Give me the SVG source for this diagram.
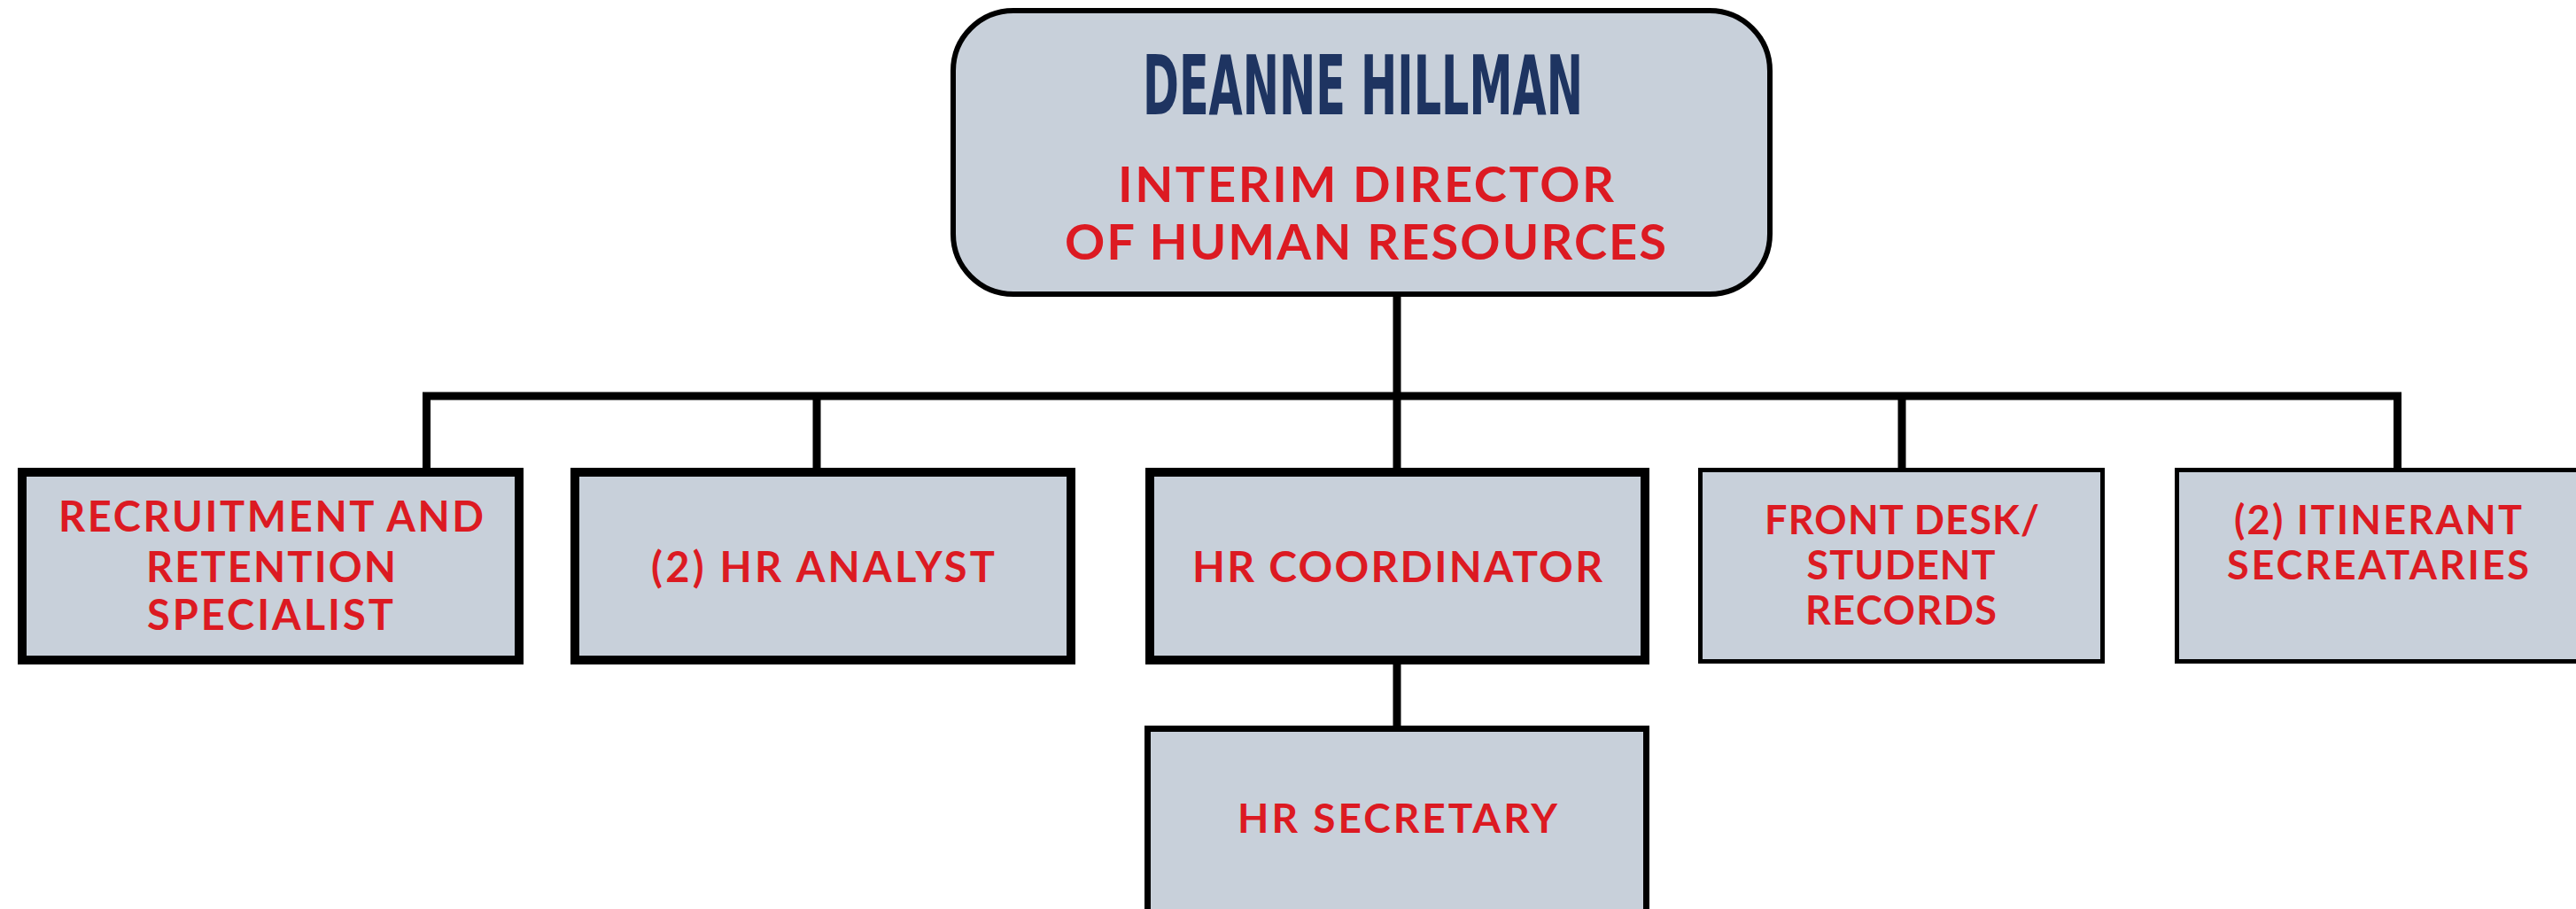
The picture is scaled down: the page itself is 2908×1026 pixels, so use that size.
<svg xmlns="http://www.w3.org/2000/svg" width="2908" height="1026" viewBox="0 0 2908 1026">
<style>
.box{fill:#c8d0da;stroke:#000}
.lbl{font-family:Lato,"Open Sans","Liberation Sans",sans-serif;font-weight:700;fill:#dc1a22;text-anchor:middle}
.name{font-family:"DejaVu Sans Condensed","Liberation Sans Narrow","Liberation Sans",sans-serif;font-weight:700;font-stretch:condensed;fill:#1e3461;text-anchor:middle}
.conn{fill:none;stroke:#000;stroke-width:9}
</style>
<rect width="2908" height="1026" fill="#fff"/>
<g id="connectors">
<path class="conn" d="M1577 335 V447"/>
<path class="conn" d="M481.5 528 V447 H2706.5 V528"/>
<path class="conn" d="M922 447 V528"/>
<path class="conn" d="M1577 447 V528"/>
<path class="conn" d="M2147 447 V528"/>
<path class="conn" d="M1577 750 V819"/>
</g>
<g id="director">
<rect class="box" x="1076" y="12" width="922" height="320" rx="68" ry="68" stroke-width="6"/>
<text class="name" x="1538.5" y="129" font-size="92" textLength="497" lengthAdjust="spacingAndGlyphs">DEANNE HILLMAN</text>
<text class="lbl" x="1542" y="228" font-size="56" textLength="560" lengthAdjust="spacing">INTERIM DIRECTOR</text>
<text class="lbl" x="1541.5" y="293" font-size="56" textLength="679" lengthAdjust="spacing">OF HUMAN RESOURCES</text>
</g>
<g id="recruitment">
<rect class="box" x="25" y="533" width="561" height="212" stroke-width="10"/>
<text class="lbl" x="306" y="600" font-size="47" textLength="480" lengthAdjust="spacing">RECRUITMENT AND</text>
<text class="lbl" x="306" y="657" font-size="47" textLength="282" lengthAdjust="spacing">RETENTION</text>
<text class="lbl" x="305" y="711" font-size="47" textLength="278" lengthAdjust="spacing">SPECIALIST</text>
</g>
<g id="analyst">
<rect class="box" x="649" y="533" width="560" height="212" stroke-width="10"/>
<text class="lbl" x="929" y="657" font-size="47" textLength="388" lengthAdjust="spacing">(2) HR ANALYST</text>
</g>
<g id="coordinator">
<rect class="box" x="1298" y="533" width="559" height="212" stroke-width="10"/>
<text class="lbl" x="1577.5" y="657" font-size="48" textLength="463" lengthAdjust="spacing">HR COORDINATOR</text>
</g>
<g id="frontdesk">
<rect class="box" x="1919.5" y="530.5" width="454" height="216" stroke-width="5"/>
<text class="lbl" x="2147" y="603" font-size="45" textLength="310" lengthAdjust="spacing">FRONT DESK/</text>
<text class="lbl" x="2146" y="654" font-size="45" textLength="213" lengthAdjust="spacing">STUDENT</text>
<text class="lbl" x="2146" y="705" font-size="45" textLength="216" lengthAdjust="spacing">RECORDS</text>
</g>
<g id="itinerant">
<rect class="box" x="2457.5" y="530.5" width="500" height="216" stroke-width="5"/>
<text class="lbl" x="2684.5" y="603" font-size="45" textLength="325" lengthAdjust="spacing">(2) ITINERANT</text>
<text class="lbl" x="2684.5" y="654" font-size="45" textLength="341" lengthAdjust="spacing">SECREATARIES</text>
</g>
<g id="secretary">
<rect class="box" x="1295.5" y="822.5" width="563" height="240" stroke-width="7"/>
<text class="lbl" x="1577.5" y="940" font-size="46" textLength="361" lengthAdjust="spacing">HR SECRETARY</text>
</g>
</svg>
